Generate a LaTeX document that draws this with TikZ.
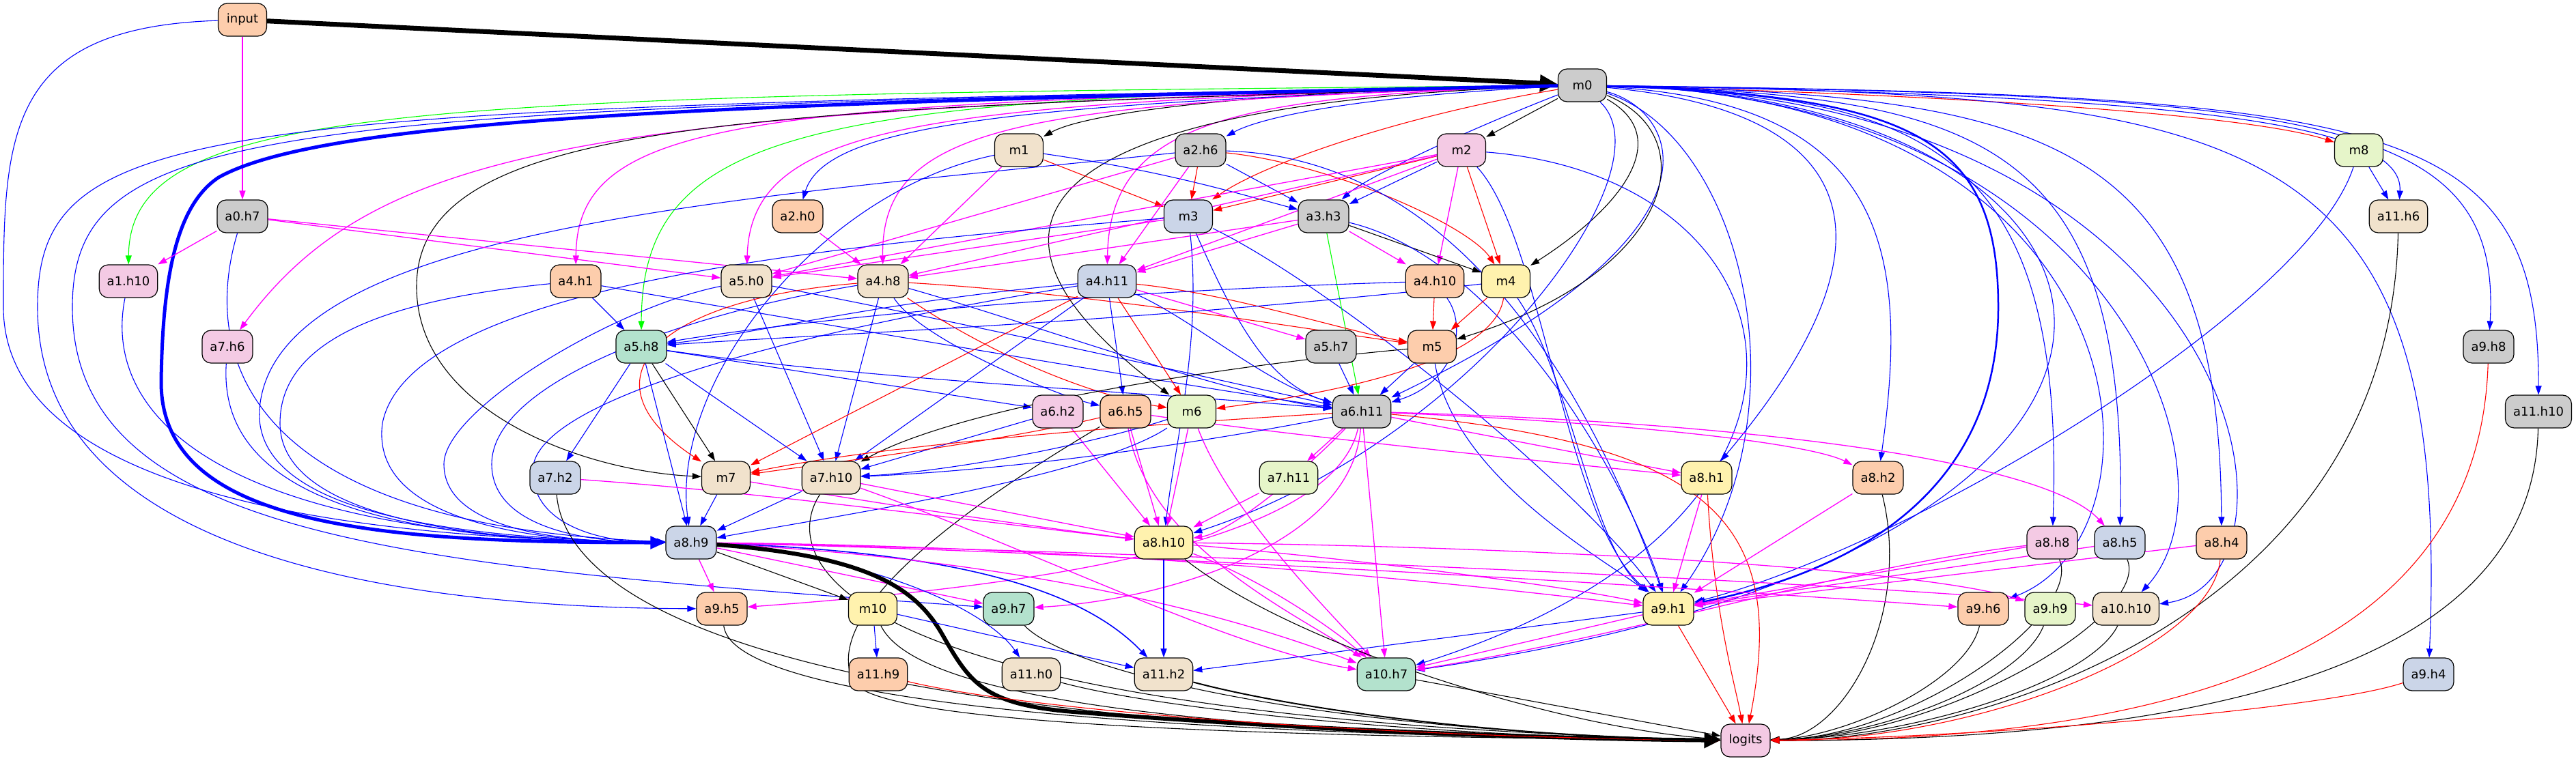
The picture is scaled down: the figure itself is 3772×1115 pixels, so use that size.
\documentclass[tikz,border=0pt]{standalone}
\usepackage{fontspec}
\setmainfont{DejaVu Sans}
\usetikzlibrary{arrows.meta}
\definecolor{cgrey}{HTML}{CCCCCC}
\definecolor{cpeach}{HTML}{FDCDAC}
\definecolor{cpink}{HTML}{F4CAE4}
\definecolor{cblue}{HTML}{CBD5E8}
\definecolor{cgreen}{HTML}{B3E2CD}
\definecolor{clime}{HTML}{E6F5C9}
\definecolor{cyellow}{HTML}{FFF2AE}
\definecolor{ctan}{HTML}{F1E2CC}
\definecolor{eblue}{RGB}{0,0,255}
\definecolor{ered}{RGB}{255,0,0}
\definecolor{egreen}{RGB}{0,255,0}
\definecolor{emag}{RGB}{255,0,255}
\pgfdeclarelayer{edgelayer}
\pgfsetlayers{edgelayer,main}
\begin{document}
\begin{tikzpicture}[x=1pt, y=1pt,
  box/.style={draw, rounded corners=13pt, minimum width=71pt, minimum height=48pt,
    inner xsep=11.5pt, line width=1.2pt, font=\fontsize{18}{21}\selectfont},
  fgrey/.style={box, fill=cgrey}, fpeach/.style={box, fill=cpeach},
  fpink/.style={box, fill=cpink}, fblue/.style={box, fill=cblue},
  fgreen/.style={box, fill=cgreen}, flime/.style={box, fill=clime},
  fyellow/.style={box, fill=cyellow}, ftan/.style={box, fill=ctan},
  conn/.style={line width=1.1pt, -{Triangle[length=13pt, width=9pt]}},
  blueedge/.style={conn, draw=eblue}, rededge/.style={conn, draw=ered},
  greenedge/.style={conn, draw=egreen}, pinkedge/.style={conn, draw=emag, line width=1.3pt},
  blackedge/.style={conn, draw=black}]
  \useasboundingbox (0, 0) rectangle (3772, -1115);

  \node[fpeach] (input) at (355, -29) {input};
  \node[fgrey] (m0) at (2317, -125) {m0};
  \node[ftan] (m1) at (1492, -220) {m1};
  \node[fgrey] (a2h6) at (1758, -220) {a2.h6};
  \node[fpink] (m2) at (2140, -220) {m2};
  \node[flime] (m8) at (3454, -220) {m8};
  \node[fgrey] (a0h7) at (355, -317) {a0.h7};
  \node[fpeach] (a2h0) at (1168, -317) {a2.h0};
  \node[fblue] (m3) at (1740, -317) {m3};
  \node[fgrey] (a3h3) at (1938, -317) {a3.h3};
  \node[ftan] (a11h6) at (3512, -317) {a11.h6};
  \node[fpink] (a1h10) at (188, -412) {a1.h10};
  \node[fpeach] (a4h1) at (843, -412) {a4.h1};
  \node[ftan] (a5h0) at (1093, -412) {a5.h0};
  \node[ftan] (a4h8) at (1293, -412) {a4.h8};
  \node[fblue] (a4h11) at (1621, -412) {a4.h11};
  \node[fpeach] (a4h10) at (2101, -412) {a4.h10};
  \node[fyellow] (m4) at (2205, -412) {m4};
  \node[fpink] (a7h6) at (333, -508) {a7.h6};
  \node[fgreen] (a5h8) at (939, -508) {a5.h8};
  \node[fgrey] (a5h7) at (1949, -508) {a5.h7};
  \node[fpeach] (m5) at (2097, -508) {m5};
  \node[fgrey] (a9h8) at (3644, -508) {a9.h8};
  \node[fpink] (a6h2) at (1549, -603) {a6.h2};
  \node[fpeach] (a6h5) at (1648, -603) {a6.h5};
  \node[flime] (m6) at (1745, -603) {m6};
  \node[fgrey] (a6h11) at (1994, -603) {a6.h11};
  \node[fgrey] (a11h10) at (3717, -603) {a11.h10};
  \node[fblue] (a7h2) at (813, -700) {a7.h2};
  \node[ftan] (m7) at (1063, -700) {m7};
  \node[ftan] (a7h10) at (1217, -700) {a7.h10};
  \node[flime] (a7h11) at (1887, -700) {a7.h11};
  \node[fyellow] (a8h1) at (2499, -700) {a8.h1};
  \node[fpeach] (a8h2) at (2750, -700) {a8.h2};
  \node[fblue] (a8h9) at (1012, -795) {a8.h9};
  \node[fyellow] (a8h10) at (1704, -795) {a8.h10};
  \node[fpink] (a8h8) at (3005, -795) {a8.h8};
  \node[fblue] (a8h5) at (3104, -795) {a8.h5};
  \node[fpeach] (a8h4) at (3253, -795) {a8.h4};
  \node[fpeach] (a9h5) at (1057, -892) {a9.h5};
  \node[fyellow] (m10) at (1278, -892) {m10};
  \node[fgreen] (a9h7) at (1477, -892) {a9.h7};
  \node[fyellow] (a9h1) at (2443, -892) {a9.h1};
  \node[fpeach] (a9h6) at (2904, -892) {a9.h6};
  \node[flime] (a9h9) at (3002, -892) {a9.h9};
  \node[ftan] (a10h10) at (3113, -892) {a10.h10};
  \node[fpeach] (a11h9) at (1286, -988) {a11.h9};
  \node[ftan] (a11h0) at (1510, -988) {a11.h0};
  \node[ftan] (a11h2) at (1704, -988) {a11.h2};
  \node[fgreen] (a10h7) at (2030, -988) {a10.h7};
  \node[fblue] (a9h4) at (3556, -988) {a9.h4};
  \node[fpink] (logits) at (2556, -1085) {logits};

  \begin{pgfonlayer}{edgelayer}
  % input
  \draw[blackedge, line width=7pt, -{Triangle[length=26pt, width=24pt]}] (input) -- (m0);
  \draw[pinkedge] (input) -- (a0h7);
  \draw[blueedge] (input) .. controls (5, -40) and (5, -200) .. (5, -450) .. controls (5, -720) and (500, -790) .. (a8h9);

  % m0, to the left
  \draw[blackedge] (m0) .. controls (1900, -130) and (1600, -160) .. (m1);
  \draw[blackedge] (m0) -- (m2);
  \draw[blueedge] (m0) .. controls (2000, -140) and (1850, -170) .. (a2h6);
  \draw[rededge] (m0) .. controls (2050, -170) and (1850, -240) .. (m3);
  \draw[blueedge] (m0) .. controls (2150, -190) and (2000, -260) .. (a3h3);
  \draw[blueedge] (m0) .. controls (1500, -150) and (1210, -180) .. (a2h0);
  \draw[greenedge] (m0) .. controls (600, -140) and (190, -150) .. (a1h10);
  \draw[pinkedge] (m0) .. controls (1100, -150) and (845, -170) .. (a4h1);
  \draw[pinkedge] (m0) .. controls (900, -160) and (560, -200) .. (a7h6);
  \draw[greenedge] (m0) .. controls (1200, -140) and (940, -180) .. (a5h8);
  \draw[pinkedge] (m0) .. controls (1350, -150) and (1100, -180) .. (a5h0);
  \draw[pinkedge] (m0) .. controls (1500, -150) and (1290, -180) .. (a4h8);
  \draw[pinkedge] (m0) .. controls (1800, -140) and (1625, -180) .. (a4h11);
  \draw[blackedge] (m0) .. controls (1100, -160) and (610, -170) .. (610, -420) .. controls (610, -600) and (850, -690) .. (m7);
  \draw[blackedge] (m0) .. controls (1500, -150) and (1380, -330) .. (m6);
  \draw[blueedge, line width=5pt, -{Triangle[length=22pt, width=18pt]}] (m0) .. controls (1100, -150) and (480, -170) .. (320, -260) .. controls (260, -300) and (238, -400) .. (236, -560) .. controls (236, -770) and (550, -795) .. (a8h9);
  \draw[blueedge] (m0) .. controls (300, -160) and (55, -170) .. (55, -450) .. controls (55, -820) and (600, -890) .. (a9h5);
  \draw[blueedge] (m0) .. controls (400, -160) and (106, -175) .. (106, -450) .. controls (106, -790) and (600, -830) .. (a9h7);

  % m0, to the right
  \draw[rededge] (m0) .. controls (2900, -140) and (3300, -170) .. (m8);
  \draw[blueedge] (m0) .. controls (3200, -140) and (3520, -180) .. (a11h6);
  \draw[blueedge] (m0) .. controls (3400, -140) and (3664, -170) .. (a9h8);
  \draw[blueedge] (m0) .. controls (3500, -140) and (3718, -170) .. (a11h10);
  \draw[blueedge] (m0) .. controls (3300, -140) and (3590, -180) .. (a9h4);
  \draw[blueedge] (m0) .. controls (2800, -140) and (3026, -200) .. (a8h8);
  \draw[blueedge] (m0) .. controls (2900, -140) and (3115, -200) .. (a8h5);
  \draw[blueedge] (m0) .. controls (3000, -140) and (3250, -200) .. (a8h4);
  \draw[blueedge] (m0) .. controls (3150, -140) and (3190, -780) .. (a9h6);
  \draw[blueedge] (m0) .. controls (3100, -140) and (3290, -700) .. (a10h10);
  \draw[blueedge] (m0) .. controls (3300, -140) and (3400, -850) .. (a10h10);
  \draw[blueedge] (m0) .. controls (3200, -140) and (3340, -800) .. (a10h7);
  \draw[blueedge, line width=2.5pt, -{Triangle[length=16pt, width=12pt]}] (m0) .. controls (2800, -140) and (2926, -200) .. (2926, -450) .. controls (2926, -760) and (2650, -850) .. (a9h1);
  \draw[blueedge] (m0) .. controls (2700, -160) and (2810, -330) .. (a8h1);
  \draw[blueedge] (m0) .. controls (2750, -150) and (2800, -350) .. (a8h2);
  \draw[blueedge] (m0) .. controls (2450, -160) and (2560, -330) .. (a6h11);
  \draw[blueedge] (m0) .. controls (2550, -200) and (2650, -600) .. (a9h1);
  \draw[blackedge] (m0) .. controls (2450, -200) and (2380, -300) .. (m4);
  \draw[blackedge] (m0) .. controls (2500, -200) and (2450, -400) .. (m5);
  \draw[blueedge] (m0) .. controls (2450, -250) and (2150, -650) .. (a8h10);

  % second row
  \draw[rededge] (m1) -- (m3);
  \draw[pinkedge] (m1) -- (a4h8);
  \draw[blueedge] (m1) .. controls (1700, -250) and (1800, -280) .. (a3h3);
  \draw[blueedge] (m1) .. controls (1200, -280) and (980, -560) .. (a8h9);
  \draw[rededge] (a2h6) -- (m3);
  \draw[rededge] (a2h6) .. controls (1950, -240) and (2150, -330) .. (m4);
  \draw[blueedge] (a2h6) -- (a3h3);
  \draw[pinkedge] (a2h6) -- (a4h11);
  \draw[pinkedge] (a2h6) -- (a5h0);
  \draw[blueedge] (a2h6) .. controls (1100, -290) and (400, -330) .. (380, -600) .. controls (370, -760) and (700, -790) .. (a8h9);
  \draw[blueedge] (a2h6) .. controls (2100, -230) and (2300, -500) .. (a9h1);
  \draw[rededge] (m2) -- (m3);
  \draw[rededge] (m2) -- (m4);
  \draw[blueedge] (m2) -- (a3h3);
  \draw[pinkedge] (m2) -- (a4h10);
  \draw[pinkedge] (m2) -- (a4h11);
  \draw[pinkedge] (m2) -- (a4h8);
  \draw[pinkedge] (m2) -- (a5h0);
  \draw[blueedge] (m2) .. controls (2260, -350) and (2290, -760) .. (a9h1);
  \draw[blueedge] (m2) .. controls (2650, -260) and (2750, -760) .. (a10h7);
  \draw[blueedge] (m8) -- (a11h6);
  \draw[blueedge] (m8) .. controls (3380, -450) and (2800, -800) .. (a9h1);

  % third row
  \draw[pinkedge] (a0h7) -- (a1h10);
  \draw[pinkedge] (a0h7) -- (a5h0);
  \draw[pinkedge] (a0h7) -- (a4h8);
  \draw[blueedge] (a0h7) .. controls (300, -500) and (330, -770) .. (a8h9);
  \draw[pinkedge] (a2h0) -- (a4h8);
  \draw[pinkedge] (m3) -- (a5h0);
  \draw[blueedge] (m3) .. controls (1200, -360) and (600, -420) .. (560, -620) .. controls (540, -770) and (800, -795) .. (a8h9);
  \draw[blueedge] (m3) .. controls (1760, -500) and (1720, -650) .. (a8h10);
  \draw[blueedge] (m3) .. controls (1950, -420) and (2300, -700) .. (a9h1);
  \draw[blueedge] (m3) .. controls (1800, -450) and (1850, -560) .. (a6h11);
  \draw[blackedge] (a3h3) -- (m4);
  \draw[greenedge] (a3h3) -- (a6h11);
  \draw[pinkedge] (a3h3) -- (a4h10);
  \draw[pinkedge] (a3h3) -- (a4h11);
  \draw[pinkedge] (a3h3) -- (a4h8);
  \draw[blueedge] (a3h3) .. controls (2200, -380) and (2380, -700) .. (a9h1);
  \draw[blackedge] (a11h6) .. controls (3500, -900) and (2900, -1085) .. (logits);

  % fourth row
  \draw[blueedge] (a1h10) .. controls (150, -600) and (300, -790) .. (a8h9);
  \draw[blueedge] (a4h1) -- (a5h8);
  \draw[blueedge] (a4h1) .. controls (560, -440) and (410, -500) .. (410, -620) .. controls (410, -760) and (700, -795) .. (a8h9);
  \draw[blueedge] (a4h1) .. controls (1000, -440) and (1700, -560) .. (a6h11);
  \draw[blueedge] (a5h0) -- (a7h10);
  \draw[blueedge] (a5h0) .. controls (900, -450) and (650, -600) .. (650, -680) .. controls (650, -770) and (800, -795) .. (a8h9);
  \draw[blueedge] (a5h0) .. controls (1400, -470) and (1800, -560) .. (a6h11);
  \draw[blueedge] (a4h8) .. controls (1350, -500) and (1550, -580) .. (a6h5);
  \draw[blueedge] (a4h8) -- (a7h10);
  \draw[rededge] (a4h8) .. controls (1450, -520) and (1600, -580) .. (m6);
  \draw[rededge] (a4h8) .. controls (950, -440) and (850, -560) .. (m7);
  \draw[rededge] (a4h8) .. controls (1600, -430) and (1900, -480) .. (m5);
  \draw[blueedge] (a4h8) .. controls (1500, -470) and (1800, -580) .. (a6h11);
  \draw[blueedge] (a4h8) .. controls (1000, -460) and (720, -560) .. (720, -680) .. controls (720, -770) and (850, -795) .. (a8h9);
  \draw[blueedge] (a4h11) .. controls (1300, -440) and (1100, -490) .. (a5h8);
  \draw[blueedge] (a4h11) -- (a6h5);
  \draw[rededge] (a4h11) -- (m6);
  \draw[rededge] (a4h11) -- (m7);
  \draw[rededge] (a4h11) .. controls (1800, -430) and (1950, -480) .. (m5);
  \draw[blueedge] (a4h11) -- (a7h10);
  \draw[blueedge] (a4h11) .. controls (1750, -470) and (1850, -560) .. (a6h11);
  \draw[pinkedge] (a4h11) -- (a5h7);
  \draw[blueedge] (a4h11) .. controls (1200, -480) and (780, -580) .. (780, -690) .. controls (780, -770) and (880, -795) .. (a8h9);
  \draw[rededge] (a4h10) -- (m5);
  \draw[blueedge] (a4h10) .. controls (1500, -430) and (1100, -480) .. (a5h8);
  \draw[blueedge] (a4h10) .. controls (2150, -480) and (2130, -560) .. (a6h11);
  \draw[rededge] (m4) -- (m5);
  \draw[rededge] (m4) .. controls (2190, -520) and (2000, -570) .. (m6);
  \draw[blueedge] (m4) .. controls (2300, -550) and (2330, -800) .. (a9h1);
  \draw[blueedge] (m4) .. controls (1700, -470) and (1200, -490) .. (a5h8);

  % fifth row
  \draw[blueedge] (a7h6) .. controls (320, -700) and (500, -795) .. (a8h9);
  \draw[blueedge] (a5h8) -- (a6h2);
  \draw[blueedge] (a5h8) .. controls (1300, -560) and (1700, -575) .. (a6h11);
  \draw[blueedge] (a5h8) -- (a7h2);
  \draw[blackedge] (a5h8) -- (m7);
  \draw[blueedge] (a5h8) -- (a7h10);
  \draw[blueedge] (a5h8) -- (a8h9);
  \draw[blueedge] (a5h7) -- (a6h11);
  \draw[blueedge] (m5) -- (a6h11);
  \draw[blackedge] (m5) .. controls (1750, -540) and (1400, -600) .. (a7h10);
  \draw[blueedge] (m5) .. controls (2130, -700) and (2350, -820) .. (a9h1);
  \draw[rededge] (a9h8) .. controls (3630, -950) and (3200, -1085) .. (logits);

  % sixth row
  \draw[blueedge] (a6h2) -- (a7h10);
  \draw[pinkedge] (a6h2) -- (a8h10);
  \draw[rededge] (a6h5) .. controls (1450, -650) and (1200, -680) .. (m7);
  \draw[pinkedge] (a6h5) .. controls (1900, -640) and (2300, -680) .. (a8h1);
  \draw[pinkedge] (a6h5) -- (a8h10);
  \draw[pinkedge] (a6h5) .. controls (1680, -800) and (1900, -900) .. (a10h7);
  \draw[blackedge] (a6h5) .. controls (1400, -750) and (1200, -900) .. (1250, -1000) .. controls (1300, -1070) and (2000, -1080) .. (logits);
  \draw[blueedge] (m6) .. controls (1600, -650) and (1400, -690) .. (a7h10);
  \draw[pinkedge] (m6) -- (a8h10);
  \draw[pinkedge] (m6) .. controls (1800, -750) and (1950, -900) .. (a10h7);
  \draw[blueedge] (m6) .. controls (1600, -700) and (1200, -760) .. (a8h9);
  \draw[rededge] (a6h11) .. controls (1700, -620) and (1300, -650) .. (m7);
  \draw[blueedge] (a6h11) .. controls (1700, -660) and (1450, -690) .. (a7h10);
  \draw[pinkedge] (a6h11) -- (a7h11);
  \draw[pinkedge] (a6h11) -- (a8h1);
  \draw[pinkedge] (a6h11) .. controls (2400, -620) and (2650, -650) .. (a8h2);
  \draw[pinkedge] (a6h11) .. controls (2600, -620) and (3000, -680) .. (a8h5);
  \draw[pinkedge] (a6h11) .. controls (1900, -700) and (1800, -780) .. (a8h10);
  \draw[pinkedge] (a6h11) .. controls (1950, -800) and (1500, -860) .. (a9h5);
  \draw[pinkedge] (a6h11) .. controls (1980, -800) and (1700, -880) .. (a9h7);
  \draw[pinkedge] (a6h11) -- (a10h7);
  \draw[rededge] (a6h11) .. controls (2500, -650) and (2620, -760) .. (logits);
  \draw[blackedge] (a11h10) .. controls (3710, -950) and (3300, -1085) .. (logits);

  % seventh row
  \draw[pinkedge] (a7h2) .. controls (1100, -720) and (1400, -760) .. (a8h10);
  \draw[blackedge] (a7h2) .. controls (830, -900) and (1200, -1080) .. (logits);
  \draw[blueedge] (m7) -- (a8h9);
  \draw[pinkedge] (m7) .. controls (1300, -740) and (1500, -770) .. (a8h10);
  \draw[blueedge] (a7h10) -- (a8h9);
  \draw[pinkedge] (a7h10) -- (a8h10);
  \draw[pinkedge] (a7h10) .. controls (1500, -800) and (1800, -950) .. (a10h7);
  \draw[blackedge] (a7h10) .. controls (1150, -800) and (1150, -1050) .. (logits);
  \draw[pinkedge] (a7h11) -- (a8h10);
  \draw[pinkedge] (a8h1) -- (a9h1);
  \draw[rededge] (a8h1) .. controls (2510, -900) and (2540, -1000) .. (logits);
  \draw[pinkedge] (a8h2) -- (a9h1);
  \draw[blackedge] (a8h2) .. controls (2800, -900) and (2700, -1080) .. (logits);

  % eighth row
  \draw[pinkedge] (a8h9) -- (a9h5);
  \draw[blackedge] (a8h9) -- (m10);
  \draw[pinkedge] (a8h9) -- (a9h7);
  \draw[blueedge] (a8h9) .. controls (1300, -820) and (1450, -900) .. (a11h0);
  \draw[blueedge, line width=1.6pt] (a8h9) .. controls (1450, -810) and (1600, -880) .. (a11h2);
  \draw[pinkedge] (a8h9) .. controls (1500, -820) and (1800, -900) .. (a10h7);
  \draw[pinkedge] (a8h9) .. controls (1600, -800) and (2100, -850) .. (a9h1);
  \draw[pinkedge] (a8h9) .. controls (1700, -810) and (2600, -870) .. (a9h6);
  \draw[pinkedge] (a8h9) .. controls (1800, -810) and (2800, -860) .. (a10h10);
  \draw[blackedge, line width=6pt, -{Triangle[length=24pt, width=22pt]}] (a8h9) .. controls (1270, -815) and (1340, -860) .. (1380, -930) .. controls (1420, -1000) and (1440, -1030) .. (1560, -1042) .. controls (1900, -1070) and (2300, -1083) .. (logits);
  \draw[blueedge] (a8h10) -- (a11h2);
  \draw[pinkedge] (a8h10) .. controls (2000, -820) and (2300, -860) .. (a9h1);
  \draw[pinkedge] (a8h10) .. controls (1850, -850) and (1950, -920) .. (a10h7);
  \draw[pinkedge] (a8h10) .. controls (2200, -800) and (2800, -830) .. (a9h9);
  \draw[blackedge] (a8h10) .. controls (1900, -950) and (2300, -1070) .. (logits);
  \draw[pinkedge] (a8h8) -- (a9h1);
  \draw[pinkedge] (a8h8) .. controls (2700, -830) and (2400, -930) .. (a10h7);
  \draw[blackedge] (a8h8) .. controls (3050, -900) and (2800, -1080) .. (logits);
  \draw[pinkedge] (a8h5) -- (a9h1);
  \draw[blackedge] (a8h5) .. controls (3150, -900) and (2850, -1080) .. (logits);
  \draw[pinkedge] (a8h4) -- (a9h1);
  \draw[rededge] (a8h4) .. controls (3240, -950) and (2900, -1085) .. (logits);

  % ninth and tenth rows
  \draw[blackedge] (a9h5) .. controls (1070, -1010) and (1500, -1075) .. (logits);
  \draw[blueedge] (m10) -- (a11h9);
  \draw[blueedge] (m10) -- (a11h2);
  \draw[blackedge] (m10) .. controls (1330, -1000) and (1600, -1075) .. (logits);
  \draw[blackedge] (a9h7) .. controls (1560, -980) and (1900, -1070) .. (logits);
  \draw[blueedge] (a9h1) -- (a11h2);
  \draw[pinkedge] (a9h1) -- (a10h7);
  \draw[rededge] (a9h1) -- (logits);
  \draw[blackedge] (a9h6) .. controls (2880, -1000) and (2700, -1080) .. (logits);
  \draw[blackedge] (a9h9) .. controls (2960, -1000) and (2750, -1080) .. (logits);
  \draw[blackedge] (a10h10) .. controls (3060, -1000) and (2800, -1080) .. (logits);
  \draw[rededge] (a11h9) .. controls (1500, -1040) and (2000, -1080) .. (logits);
  \draw[blackedge] (a11h0) .. controls (1700, -1040) and (2100, -1080) .. (logits);
  \draw[blackedge, line width=2pt] (a11h2) .. controls (1900, -1040) and (2200, -1080) .. (logits);
  \draw[blackedge] (a10h7) -- (logits);
  \draw[rededge] (a9h4) .. controls (3400, -1040) and (2900, -1080) .. (logits);
  \end{pgfonlayer}
\end{tikzpicture}
\end{document}
